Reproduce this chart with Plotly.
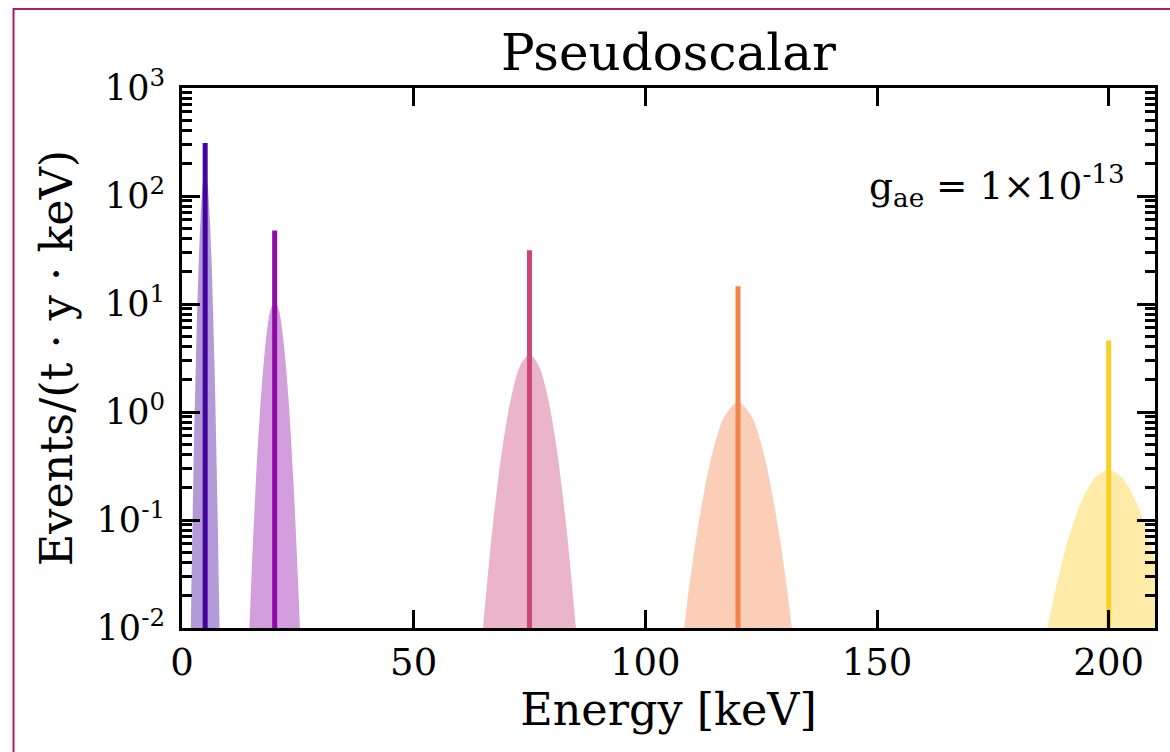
import plotly.graph_objects as go

# ---- data ----
peak_energies = [5, 20, 75, 120, 200]            # keV, line positions
line_heights = [309, 48, 31.4, 14.6, 4.6]         # top of each vertical line
colors = ["#41049d", "#8f0da4", "#cc4778", "#f2844b", "#fcce25"]

peak1_x = [1.8, 2.0, 2.5, 3.0, 3.5, 4.0, 4.5, 5.0, 5.5, 6.0, 6.5, 7.0, 7.5, 8.0, 8.2]
peak1_y = [0.0053, 0.0186, 0.30, 2.96, 17.4, 61.7, 132, 170, 132, 61.7, 17.4, 2.96, 0.30, 0.0186, 0.0053]

peak2_x = [14, 15, 16, 17, 18, 19, 20, 21, 22, 23, 24, 25, 26]
peak2_y = [0.0023, 0.0303, 0.250, 1.30, 4.18, 8.46, 10.7, 8.46, 4.18, 1.30, 0.250, 0.0303, 0.0023]

peak3_x = [64, 65, 67, 69, 71, 73, 75, 77, 79, 81, 83, 85, 86]
peak3_y = [0.0030, 0.0103, 0.0832, 0.421, 1.34, 2.70, 3.4, 2.70, 1.34, 0.421, 0.0832, 0.0103, 0.0030]

peak4_x = [107, 108, 109, 111, 114, 117, 120, 123, 126, 129, 131, 132, 133]
peak4_y = [0.0030, 0.0073, 0.0166, 0.0691, 0.343, 0.900, 1.24, 0.900, 0.343, 0.0691, 0.0166, 0.0073, 0.0030]

peak5_x = [185, 186, 188, 191, 194, 197, 200, 203, 206, 209, 212, 215]
peak5_y = [0.0037, 0.0066, 0.0179, 0.0606, 0.145, 0.244, 0.29, 0.244, 0.145, 0.0606, 0.0179, 0.0037]

fill_x = [peak1_x, peak2_x, peak3_x, peak4_x, peak5_x]
fill_y = [peak1_y, peak2_y, peak3_y, peak4_y, peak5_y]

x_ticks = [0, 50, 100, 150, 200]
y_tickvals = [0.01, 0.1, 1, 10, 100, 1000]
y_ticktext = ["10<sup>-2</sup>", "10<sup>-1</sup>", "10<sup>0</sup>",
              "10<sup>1</sup>", "10<sup>2</sup>", "10<sup>3</sup>"]
Y_MIN, Y_MAX = 0.01, 1000
X_MIN, X_MAX = 0, 210


def hex_rgba(h, a):
    h = h.lstrip("#")
    r, g, b = int(h[0:2], 16), int(h[2:4], 16), int(h[4:6], 16)
    return f"rgba({r},{g},{b},{a})"


fig = go.Figure()
for i, c in enumerate(colors):
    fig.add_trace(go.Scatter(
        x=fill_x[i], y=fill_y[i], mode="lines", fill="toself",
        fillcolor=hex_rgba(c, 0.4), line=dict(width=0, shape="spline", smoothing=0.8),
        hoverinfo="skip", showlegend=False))
for i, c in enumerate(colors):
    fig.add_trace(go.Scatter(
        x=[peak_energies[i], peak_energies[i]], y=[Y_MIN, line_heights[i]],
        mode="lines", line=dict(color=c, width=5), showlegend=False))

FONT = "DejaVu Serif"
L, R, T, B = 182, 12, 88, 124
W, H = 1170, 752
pw, ph = W - L - R, H - T - B

minor_vals = [m * 10 ** e for e in range(-2, 3) for m in range(2, 10)]

fig.update_layout(
    width=W, height=H,
    margin=dict(l=L, r=R, t=T, b=B),
    paper_bgcolor="white", plot_bgcolor="white",
    font=dict(family=FONT, color="black", size=37),
    title=dict(text="Pseudoscalar", x=0.5, xref="paper", xanchor="center",
               y=1 - 52 / H, yref="container", yanchor="middle",
               font=dict(family=FONT, size=50, color="black")),
    xaxis=dict(range=[X_MIN, X_MAX], tickvals=x_ticks, ticks="inside", ticklen=18,
               tickwidth=2.5, tickcolor="black", showline=True, linewidth=3,
               linecolor="black", mirror="ticks", showgrid=False, zeroline=False,
               tickfont=dict(size=37),
               title=dict(text="Energy [keV]", font=dict(size=44.5), standoff=8)),
    yaxis=dict(type="log", range=[-2, 3], tickmode="array", tickvals=y_tickvals,
               ticktext=y_ticktext, ticks="inside", ticklen=18, tickwidth=2.5,
               tickcolor="black", showline=True, linewidth=3, linecolor="black",
               mirror="ticks", showgrid=False, zeroline=False,
               tickfont=dict(size=35), ticklabelstandoff=7,
               minor=dict(tickmode="array", tickvals=minor_vals, ticks="inside",
                          ticklen=10, tickwidth=2.5, tickcolor="black", showgrid=False),
               title=dict(text="Events/(t · y · keV)", font=dict(size=44.5), standoff=11)),
    showlegend=False,
)

fig.add_annotation(text="g<sub>ae</sub> = 1×10<sup>-13</sup>", xref="paper", yref="paper",
                   x=(1130 - L) / pw, y=(H - B - 186) / ph,
                   xanchor="right", yanchor="middle", showarrow=False,
                   font=dict(family=FONT, size=37.5, color="black"))

# outer frame (magenta border)
fig.add_shape(type="rect", xref="paper", yref="paper",
              x0=(13 - L) / pw, x1=(1185 - L) / pw,
              y0=(H - B - 765) / ph, y1=(H - B - 9) / ph,
              line=dict(color="#a6206a", width=2), fillcolor="rgba(0,0,0,0)", layer="above")

fig.write_html("out.html", post_script="document.body.style.margin='0';",
               config={"displayModeBar": False})
